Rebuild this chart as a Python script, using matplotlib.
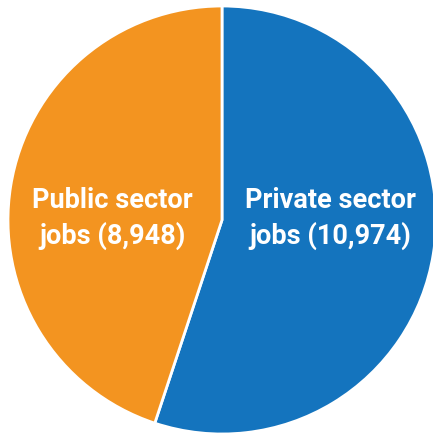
import matplotlib
matplotlib.use("Agg")
import matplotlib.pyplot as plt

categories = ["Private sector", "Public sector"]
values = [10974, 8948]
colors = ["#1474BE", "#F39420"]
labels = ["Private sector\njobs (10,974)", "Public sector\njobs (8,948)"]

fig = plt.figure(figsize=(4.33, 4.34), dpi=100)
ax = fig.add_axes([8/433, 0/434, 428/433, 428/434])
ax.pie(values, colors=colors, startangle=90, counterclock=False, radius=1,
       wedgeprops=dict(edgecolor="white", linewidth=2))
ax.set_xlim(-1, 1)
ax.set_ylim(-1, 1)
ax.axis("off")

fam = ["Roboto", "DejaVu Sans"]
ax.text(0.505, 0.005, labels[0], ha="center", va="center", color="white",
        fontsize=19.5, fontweight="bold", family=fam, linespacing=1.35)
ax.text(-0.514, 0.005, labels[1], ha="center", va="center", color="white",
        fontsize=19.5, fontweight="bold", family=fam, linespacing=1.35)

fig.savefig("out.png", dpi=100)
